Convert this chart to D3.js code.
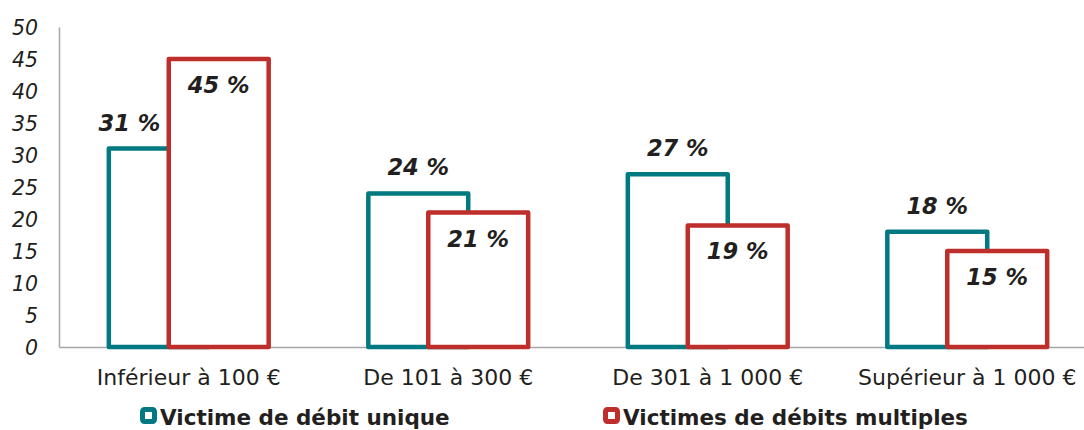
<!DOCTYPE html>
<html lang="fr">
<head>
<meta charset="utf-8">
<script src="https://cdn.jsdelivr.net/npm/d3@7"></script>
<style>
  html, body { margin: 0; padding: 0; background: #ffffff; }
  svg { display: block; }
  svg text { font-family: "DejaVu Sans", Verdana, sans-serif; }
</style>
</head>
<body>
<svg id="chart" width="1084" height="430"></svg>
<script>
// Montants débités : part des victimes selon la tranche
const categories = ["Inférieur à 100 €", "De 101 à 300 €", "De 301 à 1 000 €", "Supérieur à 1 000 €"];
const seriesNames = ["Victime de débit unique", "Victimes de débits multiples"];
const debitUnique = [31, 24, 27, 18];
const debitsMultiples = [45, 21, 19, 15];
const yTicks = [0, 5, 10, 15, 20, 25, 30, 35, 40, 45, 50];

const colors = ["#007A80", "#BE2E2B"];
const textColor = "#231F20";
const fontFamily = "'DejaVu Sans', Verdana, sans-serif";

const svg = d3.select("#chart");

const x = d3.scaleBand().domain(categories).range([59, 1097]).padding(0);
const y = d3.scaleLinear().domain([0, 50]).range([347, 27]);

const barW = x.bandwidth() * 0.385;
const shift = barW * 0.6; // second series overlaps the first
const stroke = 4.5;

// Axes
const yAxis = svg.append("g")
  .attr("transform", "translate(59,0)")
  .call(d3.axisLeft(y).tickValues(yTicks).tickSize(0).tickPadding(21).tickFormat(d3.format("d")))
  .attr("font-family", fontFamily);
yAxis.select(".domain").attr("stroke", "#A6A6A6").attr("stroke-width", 1.5);
yAxis.selectAll("text")
  .attr("fill", textColor)
  .style("font-size", "20.5px")
  .style("font-style", "italic")
  .attr("dy", "0.36em");

const xAxis = svg.append("g")
  .attr("transform", `translate(0,${y(0)})`)
  .call(d3.axisBottom(x).tickSize(0).tickPadding(22))
  .attr("font-family", fontFamily);
xAxis.select(".domain").attr("stroke", "#A6A6A6").attr("stroke-width", 1.5);
xAxis.selectAll("text")
  .attr("fill", textColor)
  .style("font-size", "22px");

// Bars
const groupLeft = c => x(c) + x.bandwidth() / 2 - (barW + shift) / 2;

const series = [debitUnique, debitsMultiples];
series.forEach((vals, si) => {
  svg.append("g").selectAll("rect")
    .data(categories)
    .join("rect")
    .attr("x", c => groupLeft(c) + si * shift)
    .attr("y", (c, i) => y(vals[i]))
    .attr("width", barW)
    .attr("height", (c, i) => y(0) - y(vals[i]))
    .attr("fill", "#ffffff")
    .attr("stroke", colors[si])
    .attr("stroke-width", stroke)
    .attr("stroke-linejoin", "round");
});

// Value labels
const labelStyle = sel => sel
  .attr("fill", textColor)
  .attr("text-anchor", "middle")
  .style("font-size", "22.5px")
  .style("font-weight", "bold")
  .style("font-style", "italic");

// first series: above the bar, nudged left when the taller neighbour would cover it
svg.append("g").selectAll("text")
  .data(categories)
  .join("text")
  .text((c, i) => debitUnique[i] + " %")
  .call(labelStyle)
  .attr("y", (c, i) => y(debitUnique[i]) - 18)
  .attr("x", function (c, i) {
    const cx = groupLeft(c) + barW / 2;
    const w = this.getComputedTextLength();
    const neighbourLeft = groupLeft(c) + shift - stroke;
    if (y(debitsMultiples[i]) < y(debitUnique[i]) && cx + w / 2 > neighbourLeft) {
      return neighbourLeft - 4 - w / 2;
    }
    return cx;
  });

// second series: inside the top of the bar
svg.append("g").selectAll("text")
  .data(categories)
  .join("text")
  .text((c, i) => debitsMultiples[i] + " %")
  .call(labelStyle)
  .attr("x", c => groupLeft(c) + shift + barW / 2)
  .attr("y", (c, i) => y(debitsMultiples[i]) + 34);

// Legend
const legendX = [140, 603];
const legend = svg.append("g");
seriesNames.forEach((name, i) => {
  legend.append("rect")
    .attr("x", legendX[i] + 2.5)
    .attr("y", 409.5)
    .attr("width", 12)
    .attr("height", 12)
    .attr("rx", 2)
    .attr("fill", "#ffffff")
    .attr("stroke", colors[i])
    .attr("stroke-width", 5);
  legend.append("text")
    .attr("x", legendX[i] + 20)
    .attr("y", 425)
    .attr("fill", textColor)
    .style("font-size", "21.5px")
    .style("font-weight", "bold")
    .text(name);
});
</script>
</body>
</html>
